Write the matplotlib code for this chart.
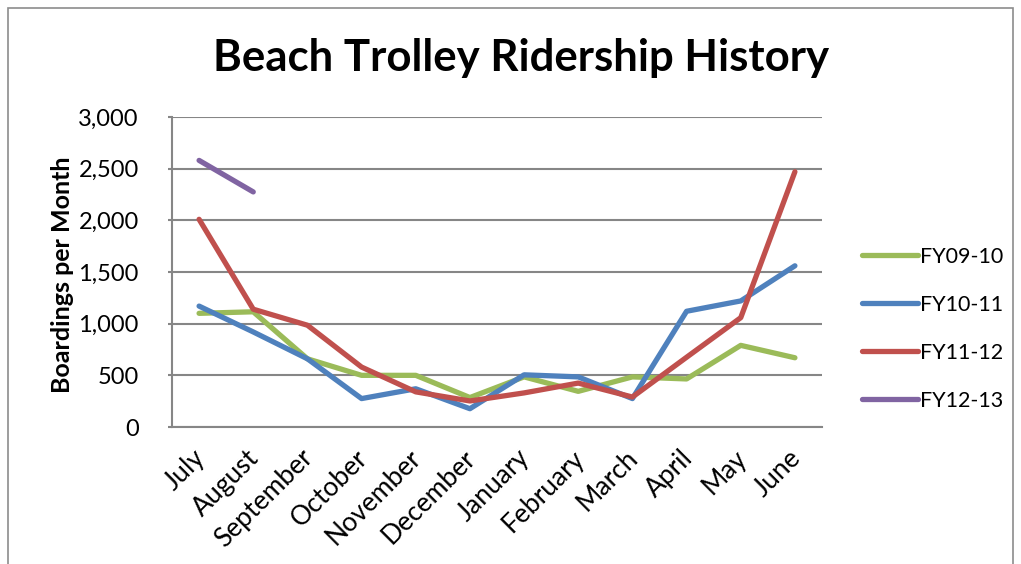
import matplotlib
matplotlib.use("Agg")
import matplotlib.pyplot as plt
from matplotlib.patches import Rectangle
from matplotlib.ticker import FuncFormatter

months = ["July", "August", "September", "October", "November", "December",
          "January", "February", "March", "April", "May", "June"]
fy0910 = [1100, 1115, 660, 500, 500, 285, 485, 345, 485, 465, 790, 670]
fy1011 = [1170, 920, 660, 275, 370, 177, 505, 485, 275, 1120, 1220, 1560]
fy1112 = [2010, 1140, 985, 580, 340, 252, 330, 425, 290, 675, 1058, 2470]
fy1213 = [2580, 2275]
series_names = ["FY09-10", "FY10-11", "FY11-12", "FY12-13"]
colors = ["#9BBB59", "#4F81BD", "#C0504D", "#8064A2"]
yticks = [0, 500, 1000, 1500, 2000, 2500, 3000]

plt.rcParams['font.family'] = ['Lato', 'DejaVu Sans']

W, H = 1021, 564
fig = plt.figure(figsize=(W / 100, H / 100), dpi=100)
fig.patch.set_facecolor("white")

# outer chart border
fig.patches.append(Rectangle((8 / W, -0.05), (1013 - 8) / W, (H - 8) / H + 0.05,
                             transform=fig.transFigure, fill=False,
                             edgecolor="#8c8c8c", linewidth=1.2))

left, right, top, bottom = 172, 822, 117, 427
ax = fig.add_axes([left / W, 1 - bottom / H, (right - left) / W, (bottom - top) / H])

x = list(range(len(months)))
all_series = [fy0910, fy1011, fy1112, fy1213]
for s, name, c in zip(all_series, series_names, colors):
    ax.plot(x[:len(s)], s, color=c, linewidth=3.8, label=name,
            solid_capstyle="round", solid_joinstyle="round")

ax.set_xlim(-0.5, len(months) - 0.5)
ax.set_ylim(0, 3000)
ax.set_yticks(yticks)
ax.yaxis.set_major_formatter(FuncFormatter(lambda v, p: f"{int(v):,}"))
ax.set_xticks(x)
ax.set_xticklabels([])
for i, m in enumerate(months):
    ax.annotate(m, xy=(i, 0), xycoords=("data", "axes fraction"),
                xytext=(-5, -13), textcoords="offset points",
                rotation=45, ha="right", va="top", rotation_mode="anchor",
                fontsize=19, annotation_clip=False)
ax.tick_params(axis="y", labelsize=17, length=3, width=1.5, color="#868686", pad=21)
ax.tick_params(axis="x", length=0)
ax.grid(axis="y", color="#868686", linewidth=1.5)
ax.set_axisbelow(True)
for sp in ["top", "right"]:
    ax.spines[sp].set_visible(False)
for sp in ["left", "bottom"]:
    ax.spines[sp].set_color("#868686")
    ax.spines[sp].set_linewidth(1.5)

fig.text(62 / W, 1 - 275 / H, "Boardings per Month", fontsize=18, fontweight="bold",
         rotation=90, ha="center", va="center")

fig.text(521 / W, 1 - 58 / H, "Beach Trolley Ridership History", fontsize=31.5,
         fontweight="bold", ha="center", va="center")

leg = ax.legend(loc="center left", bbox_to_anchor=(862 / W, 1 - 329 / H),
                bbox_transform=fig.transFigure, frameon=False, fontsize=15.5,
                handlelength=2.6, handletextpad=0.1, labelspacing=1.3,
                borderpad=0, borderaxespad=0)

fig.savefig("out.png", dpi=100)
